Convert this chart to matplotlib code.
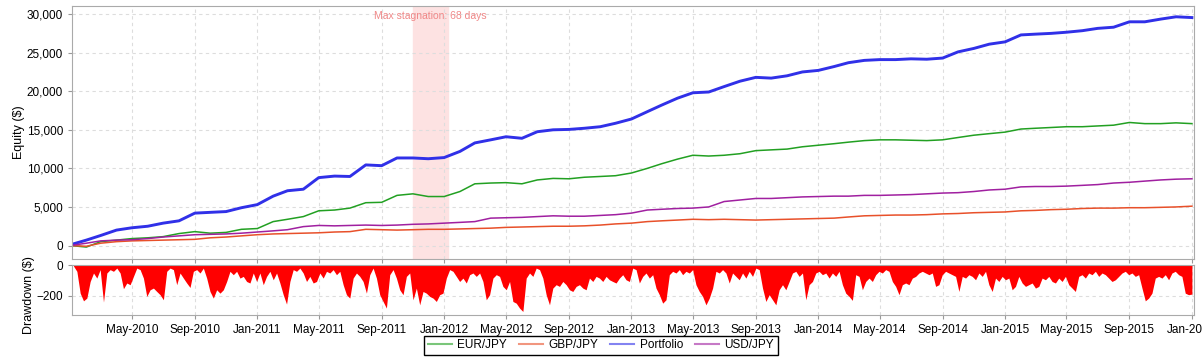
import pandas as pd
import matplotlib
matplotlib.use('Agg')
import matplotlib.pyplot as plt
import matplotlib.dates as mdates
from matplotlib.ticker import FuncFormatter

plt.rcParams['font.family'] = ['Liberation Sans', 'DejaVu Sans']

months = pd.date_range('2010-01-01', '2016-01-01', freq='MS')

portfolio = [100, 700, 1300, 2000, 2300, 2500, 2900, 3200, 4200, 4300, 4400, 4900,
             5300, 6400, 7100, 7300, 8800, 9000, 8950, 10450, 10350, 11350, 11350, 11250,
             11400, 12200, 13300, 13700, 14100, 13900, 14750, 15000, 15050, 15200, 15400, 15850,
             16400, 17350, 18200, 19100, 19800, 19900, 20600, 21300, 21800, 21700, 22000, 22500,
             22700, 23200, 23700, 24000, 24100, 24100, 24200, 24150, 24300, 25100, 25550, 26100,
             26400, 27300, 27400, 27500, 27650, 27850, 28150, 28300, 29000, 29000, 29350, 29650,
             29550]
eurjpy = [0, -200, 500, 700, 900, 1000, 1150, 1550, 1800, 1600, 1700, 2100,
          2200, 3100, 3400, 3750, 4500, 4600, 4850, 5550, 5600, 6500, 6700, 6350,
          6350, 7000, 8000, 8100, 8150, 8000, 8500, 8700, 8650, 8850, 8950, 9050,
          9400, 10000, 10600, 11200, 11700, 11600, 11700, 11900, 12300, 12400, 12500, 12800,
          13000, 13200, 13400, 13600, 13700, 13700, 13650, 13600, 13700, 14000, 14300, 14500,
          14700, 15100, 15200, 15300, 15400, 15400, 15500, 15600, 15950, 15800, 15800, 15900,
          15800]
gbpjpy = [0, -100, 300, 500, 600, 650, 700, 750, 800, 1000, 1100, 1250,
          1400, 1500, 1550, 1600, 1650, 1750, 1800, 2100, 2050, 2000, 2050, 2100,
          2100, 2150, 2200, 2250, 2350, 2400, 2450, 2500, 2500, 2550, 2650, 2800,
          2900, 3100, 3200, 3300, 3400, 3350, 3400, 3350, 3300, 3350, 3400, 3450,
          3500, 3550, 3700, 3850, 3900, 3950, 3950, 4000, 4100, 4150, 4250, 4300,
          4350, 4500, 4550, 4650, 4700, 4800, 4850, 4850, 4900, 4900, 4950, 5000,
          5100]
usdjpy = [0, 300, 600, 700, 750, 900, 1100, 1250, 1400, 1450, 1500, 1600,
          1750, 1900, 2050, 2450, 2600, 2550, 2600, 2650, 2600, 2650, 2750, 2800,
          2900, 3000, 3100, 3550, 3600, 3650, 3750, 3850, 3800, 3800, 3900, 4000,
          4200, 4600, 4700, 4800, 4850, 5000, 5700, 5900, 6100, 6100, 6200, 6300,
          6350, 6400, 6400, 6500, 6500, 6550, 6600, 6700, 6800, 6850, 7000, 7200,
          7300, 7600, 7650, 7650, 7700, 7800, 7900, 8100, 8200, 8350, 8500, 8600,
          8650]

drawdown = [
    -7, -41, -183, -233, -215, -107, -52, -85, -30, -241, -52, -30, -41, -20, -52, -154, -117,
    -128, -74, -20, -30, -85, -204, -161, -150, -172, -193, -226, -41, -20, -30, -128, -52, -85,
    -117, -146, -41, -30, -52, -20, -85, -172, -215, -161, -183, -161, -107, -41, -63, -41, -85,
    -74, -107, -117, -52, -107, -52, -128, -74, -41, -96, -52, -117, -193, -254, -107, -30, -41, -20,
    -52, -107, -74, -117, -107, -52, -85, -41, -52, -30, -63, -41, -128, -193, -215, -85, -52,
    -74, -107, -183, -63, -20, -85, -193, -237, -280, -63, -30, -85, -161, -193, -74, -52, -226,
    -150, -259, -172, -183, -204, -215, -237, -193, -183, -85, -30, -41, -74, -107, -85, -117,
    -63, -52, -74, -52, -107, -226, -193, -85, -63, -74, -139, -161, -107, -237, -248, -280, -302,
    -85, -52, -74, -20, -30, -85, -193, -259, -150, -128, -139, -107, -128, -161, -172, -139,
    -128, -150, -161, -85, -107, -74, -85, -107, -74, -96, -107, -117, -85, -63, -96, -107, -20,
    -30, -117, -74, -52, -85, -63, -150, -193, -248, -226, -63, -41, -52, -30, -63, -41, -52, -30,
    -128, -172, -204, -259, -215, -150, -41, -52, -30, -52, -117, -52, -74, -96, -52, -85, -41,
    -74, -20, -30, -150, -237, -193, -226, -259, -161, -128, -161, -107, -52, -41, -74, -52, -226,
    -128, -107, -52, -41, -63, -52, -85, -52, -74, -41, -128, -183, -204, -230, -63, -74, -161,
    -107, -85, -107, -63, -41, -52, -30, -41, -107, -139, -193, -128, -117, -128, -85, -74, -52,
    -41, -52, -63, -52, -139, -128, -63, -41, -52, -63, -74, -172, -74, -85, -63, -74,
    -96, -52, -74, -41, -128, -172, -85, -107, -74, -96, -85, -161, -139, -74, -117, -139, -128,
    -117, -150, -139, -85, -96, -74, -107, -117, -85, -107, -74, -128, -150, -172, -74, -63, -85,
    -52, -63, -41, -74, -52, -63, -85, -107, -96, -74, -52, -41, -63, -52, -74, -63, -150, -233,
    -215, -183, -85, -74, -85, -63, -96, -52, -41, -63, -74, -183, -193, -189]
dd_dates = pd.date_range('2010-01-07', '2016-01-01', periods=len(drawdown))

stag_start = pd.Timestamp('2011-11-01')
stag_end = pd.Timestamp('2012-01-08')

fig = plt.figure(figsize=(12.02, 3.61), dpi=100)
ax = fig.add_axes([0.0599, 0.2825, 0.9334, 0.7009])
ax2 = fig.add_axes([0.0599, 0.1274, 0.9334, 0.1385], sharex=ax)

grid_kw = dict(color='#dddddd', linestyle=(0, (3, 3)), linewidth=0.8)

ax.axvspan(stag_start, stag_end, color='#fde2e2', zorder=0)
ax.plot(months, eurjpy, color='#22a022', lw=1.1, label='EUR/JPY')
ax.plot(months, gbpjpy, color='#e8502a', lw=1.1, label='GBP/JPY')
ax.plot(months, portfolio, color='#3030e8', lw=2.1, label='Portfolio')
ax.plot(months, usdjpy, color='#a020a0', lw=1.1, label='USD/JPY')
ax.text(stag_start + (stag_end - stag_start) / 2, 29800, 'Max stagnation: 68 days',
        ha='center', va='center', fontsize=7.5, color='#f08888')

ax.set_ylim(-1750, 31050)
ax.set_yticks(range(0, 30001, 5000))
ax.yaxis.set_major_formatter(FuncFormatter(lambda v, p: f'{int(v):,}'))
ax.set_ylabel('Equity ($)', fontsize=9)
ax.yaxis.set_label_coords(-0.042, 0.5)
ax.grid(True, **grid_kw)
ax.tick_params(labelbottom=False, length=3, labelsize=8.5, color='#999999')

ax2.fill_between(dd_dates, drawdown, 0, color='#ff0000', lw=0)
ax2.set_ylim(-325, 0)
ax2.set_yticks([0, -200])
ax2.set_ylabel('Drawdown ($)', fontsize=9)
ax2.yaxis.set_label_coords(-0.033, 0.4)
ax2.grid(True, **grid_kw)
ax2.tick_params(length=3, labelsize=8.5, color='#999999')

ax2.set_xlim(pd.Timestamp('2010-01-04'), pd.Timestamp('2016-01-05'))
ax2.set_xticks(pd.date_range('2010-05-01', '2016-01-01', freq='4MS'))
ax2.xaxis.set_major_formatter(mdates.DateFormatter('%b-%Y'))

for a in (ax, ax2):
    for s in a.spines.values():
        s.set_color('#aaaaaa')
    a.set_axisbelow(True)

leg = fig.legend(loc='center', bbox_to_anchor=(0.5, 0.043), ncol=4, fontsize=8.5,
                 fancybox=False, edgecolor='black', framealpha=1, handlelength=2,
                 columnspacing=1.0, handletextpad=0.5, borderpad=0.3)
leg.get_frame().set_linewidth(1.0)
for line in leg.get_lines():
    line.set_linewidth(1.5)
    line.set_alpha(0.6)

fig.savefig('out.png', dpi=100)
